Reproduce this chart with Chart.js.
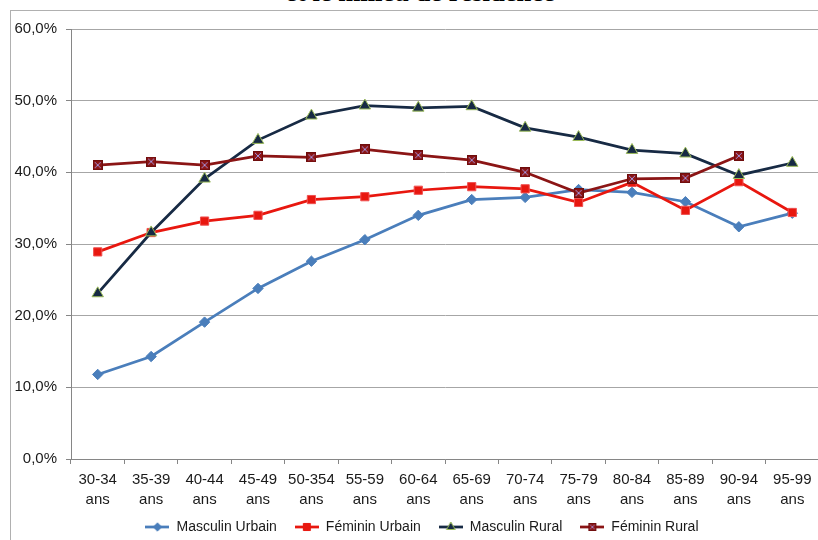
<!DOCTYPE html>
<html>
<head>
<meta charset="utf-8">
<script src="https://cdn.jsdelivr.net/npm/chart.js@4.4.1/dist/chart.umd.min.js"></script>
<style>
html,body{margin:0;padding:0;background:#fff;overflow:hidden;width:818px;height:540px;position:relative;}
#title{position:absolute;left:0;width:840px;top:-21.2px;text-align:center;font:bold 26.5px 'Liberation Serif','Times New Roman',serif;line-height:26.5px;color:#000;white-space:nowrap;}
#frame{position:absolute;left:10px;top:10px;width:900px;height:600px;border-left:1px solid #b0b0b0;border-top:1px solid #b0b0b0;}
#wrap{position:absolute;left:11px;top:11px;width:822px;height:550px;}
</style>
</head>
<body>
<div id="title">et le milieu de résidence</div>
<div id="frame"></div>
<div id="wrap"><canvas id="c" width="822" height="550"></canvas></div>
<script>
const categories = [
  ['30-34','ans'],['35-39','ans'],['40-44','ans'],['45-49','ans'],['50-354','ans'],
  ['55-59','ans'],['60-64','ans'],['65-69','ans'],['70-74','ans'],['75-79','ans'],
  ['80-84','ans'],['85-89','ans'],['90-94','ans'],['95-99','ans']
];
const seriesNames = ['Masculin Urbain','Féminin Urbain','Masculin Rural','Féminin Rural'];
const masculinUrbain = [11.8, 14.3, 19.1, 23.8, 27.6, 30.6, 34.0, 36.2, 36.5, 37.6, 37.2, 35.9, 32.4, 34.3];
const femininUrbain  = [28.9, 31.6, 33.2, 34.0, 36.2, 36.6, 37.5, 38.0, 37.7, 35.8, 38.6, 34.7, 38.7, 34.4];
const masculinRural  = [23.1, 31.6, 39.1, 44.5, 47.9, 49.3, 49.0, 49.2, 46.2, 44.9, 43.1, 42.6, 39.6, 41.3];
const femininRural   = [41.0, 41.5, 41.0, 42.3, 42.1, 43.2, 42.4, 41.7, 40.0, 37.1, 39.1, 39.2, 42.3, null];
const yTicks = [0, 10, 20, 30, 40, 50, 60];

const FONT = "'Liberation Sans', Arial, sans-serif";
Chart.defaults.font.family = FONT;

const colBlue = '#4a7ebb', colRed = '#e8170f', colNavy = '#172a44', colDark = '#8b1515';

function crossSquare(size){
  const c = document.createElement('canvas');
  c.width = size; c.height = size;
  const g = c.getContext('2d');
  g.fillStyle = colDark; g.fillRect(0.5,0.5,size-1,size-1);
  g.strokeStyle = '#6e0d0d'; g.lineWidth = 1; g.strokeRect(0.5,0.5,size-1,size-1);
  g.strokeStyle = '#a592dc'; g.lineWidth = 1;
  g.beginPath(); g.moveTo(2,2); g.lineTo(size-2,size-2); g.moveTo(size-2,2); g.lineTo(2,size-2); g.stroke();
  return c;
}
const frMarker = crossSquare(10);

function legendIcon(color, style, radius, fill, border){
  const c = document.createElement('canvas');
  c.width = 24; c.height = 14;
  const g = c.getContext('2d');
  g.strokeStyle = color; g.lineWidth = 2.75;
  g.beginPath(); g.moveTo(0,7); g.lineTo(24,7); g.stroke();
  if (style instanceof HTMLCanvasElement) {
    g.drawImage(style, 12 - style.width/2 + 1, 7 - style.height/2 + 1, style.width - 2, style.height - 2);
  } else {
    g.fillStyle = fill; g.strokeStyle = border; g.lineWidth = 1;
    Chart.helpers.drawPoint(g, {pointStyle: style, radius: radius, rotation: 0, borderWidth: 1}, 12, 7);
  }
  return c;
}
const legendIcons = [
  legendIcon(colBlue, 'rectRot', 4.2, colBlue, colBlue),
  legendIcon(colRed, 'rect', 5, colRed, colRed),
  legendIcon(colNavy, 'triangle', 5, colNavy, '#9bbb59'),
  legendIcon(colDark, crossSquare(10))
];

const legendShift = {
  id: 'legendShift',
  afterLayout(chart) {
    const l = chart.legend;
    if (!l) return;
    l.left += 7; l.right += 7;
    l.top -= 12; l.bottom -= 12;
  }
};

new Chart(document.getElementById('c'), {
  type: 'line',
  plugins: [legendShift],
  data: {
    labels: categories,
    datasets: [
      {label: seriesNames[0], data: masculinUrbain, borderColor: colBlue, backgroundColor: colBlue,
       borderWidth: 2.75, pointStyle: 'rectRot', pointRadius: 5.2, pointHoverRadius: 5.2,
       pointBackgroundColor: colBlue, pointBorderColor: colBlue, pointBorderWidth: 1, order: 3},
      {label: seriesNames[1], data: femininUrbain, borderColor: colRed, backgroundColor: colRed,
       borderWidth: 2.75, pointStyle: 'rect', pointRadius: 5.8, pointHoverRadius: 5.8,
       pointBackgroundColor: colRed, pointBorderColor: '#f05050', pointBorderWidth: 1, order: 2},
      {label: seriesNames[2], data: masculinRural, borderColor: colNavy, backgroundColor: colNavy,
       borderWidth: 2.75, pointStyle: 'triangle', pointRadius: 6.6, pointHoverRadius: 6.6,
       pointBackgroundColor: colNavy, pointBorderColor: '#9bbb59', pointBorderWidth: 1, order: 1},
      {label: seriesNames[3], data: femininRural, borderColor: colDark, backgroundColor: colDark,
       borderWidth: 2.75, pointStyle: frMarker, pointRadius: 5, pointHoverRadius: 5, order: 0}
    ]
  },
  options: {
    responsive: false,
    animation: false,
    layout: {padding: {left: 0, right: 14, top: 14, bottom: 5}},
    elements: {line: {tension: 0}},
    plugins: {
      tooltip: {enabled: false},
      title: {display: false},
      legend: {
        position: 'bottom',
        labels: {
          usePointStyle: true,
          pointStyleWidth: 24,
          padding: 18,
          color: '#1a1a1a',
          font: {size: 14, family: FONT},
          generateLabels: (chart) => chart.data.datasets.map((ds, i) => ({
            text: ds.label,
            pointStyle: legendIcons[i],
            fillStyle: ds.borderColor,
            strokeStyle: ds.borderColor,
            lineWidth: 0,
            fontColor: '#1a1a1a',
            hidden: !chart.isDatasetVisible(i),
            datasetIndex: i
          }))
        }
      }
    },
    scales: {
      x: {
        offset: true,
        afterFit: (s) => { s.height = 55; },
        grid: {drawOnChartArea: false, drawTicks: true, tickLength: 5, color: '#868686', offset: true},
        border: {color: '#868686', width: 1},
        ticks: {autoSkip: false, maxRotation: 0, minRotation: 0, padding: 6, color: '#1a1a1a',
                font: {size: 15, lineHeight: 1.3333}}
      },
      y: {
        min: 0, max: 60,
        afterFit: (s) => { s.width = 60; },
        afterBuildTicks: (s) => { s.ticks = yTicks.map(v => ({value: v})); },
        grid: {color: '#a6a6a6', lineWidth: 1, tickLength: 5, tickColor: '#868686'},
        border: {color: '#868686', width: 1},
        ticks: {padding: 9, color: '#1a1a1a', font: {size: 15},
                callback: (v) => Number(v).toFixed(1).replace('.', ',') + '%'}
      }
    }
  }
});
</script>
</body>
</html>
